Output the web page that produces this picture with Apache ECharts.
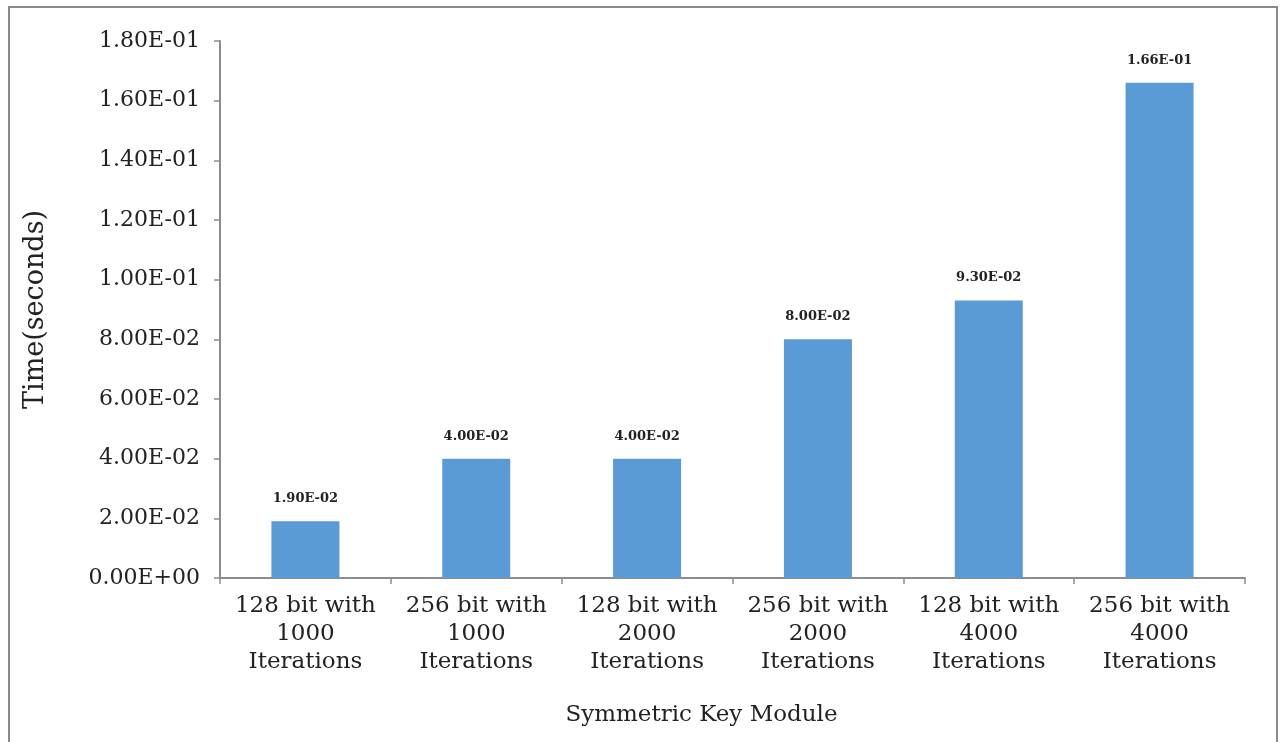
<!DOCTYPE html>
<html>
<head>
<meta charset="utf-8">
<script src="https://cdn.jsdelivr.net/npm/echarts@6/dist/echarts.min.js"></script>
<style>
  html, body { margin: 0; padding: 0; background: #fff; }
  #chart { width: 1280px; height: 742px; }
</style>
</head>
<body>
<div id="chart"></div>
<script>
// Symmetric key timing per configuration
const categories = [
  '128 bit with\n1000\nIterations',
  '256 bit with\n1000\nIterations',
  '128 bit with\n2000\nIterations',
  '256 bit with\n2000\nIterations',
  '128 bit with\n4000\nIterations',
  '256 bit with\n4000\nIterations'
];
const timeSeconds = [0.019, 0.04, 0.04, 0.08, 0.093, 0.166];
const yTicks = [0, 0.02, 0.04, 0.06, 0.08, 0.10, 0.12, 0.14, 0.16, 0.18];

// Scientific notation like 1.80E-01 / 0.00E+00
function sci(v) {
  if (v === 0) return '0.00E+00';
  const parts = v.toExponential(2).split('e');
  const exp = parseInt(parts[1], 10);
  const sign = exp < 0 ? '-' : '+';
  const mag = String(Math.abs(exp)).padStart(2, '0');
  return parts[0] + 'E' + sign + mag;
}

const serif = '"DejaVu Serif", "Liberation Serif", serif';
const chart = echarts.init(document.getElementById('chart'));
chart.setOption({
  backgroundColor: '#fff',
  animation: false,
  graphic: [{
    type: 'rect',
    shape: { x: 9, y: 7, width: 1268, height: 760 },
    style: { fill: 'none', stroke: '#8a8a8a', lineWidth: 2 },
    silent: true
  }],
  grid: { left: 220, right: 35, top: 41, bottom: 164 },
  xAxis: {
    type: 'category',
    data: categories,
    name: 'Symmetric Key Module',
    nameLocation: 'middle',
    nameGap: 126,
    nameTextStyle: { fontFamily: serif, fontSize: 23, color: '#222', padding: [0, 62, 0, 0] },
    axisLine: { lineStyle: { color: '#8c8c8c', width: 2 } },
    axisTick: { show: true, alignWithLabel: false, length: 6, lineStyle: { color: '#8c8c8c', width: 1.5 } },
    axisLabel: {
      interval: 0, margin: 14,
      fontFamily: serif, fontSize: 23, color: '#222', lineHeight: 28
    }
  },
  yAxis: {
    type: 'value',
    min: 0, max: 0.18, interval: 0.02,
    name: 'Time(seconds)',
    nameLocation: 'middle',
    nameRotate: 90,
    nameGap: 171,
    nameTextStyle: { fontFamily: serif, fontSize: 27, color: '#222' },
    axisLine: { show: true, lineStyle: { color: '#8c8c8c', width: 2 } },
    axisTick: { show: true, length: 6, lineStyle: { color: '#8c8c8c', width: 1.5 } },
    splitLine: { show: false },
    axisLabel: {
      margin: 20,
      fontFamily: serif, fontSize: 22, color: '#222',
      formatter: function (v) {
        const t = yTicks.find(function (k) { return Math.abs(k - v) < 1e-9; });
        return sci(t === undefined ? v : t);
      }
    }
  },
  series: [{
    type: 'bar',
    data: timeSeconds,
    barWidth: 68,
    itemStyle: { color: '#5B9BD5' },
    label: {
      show: true, position: 'top', distance: 16,
      fontFamily: serif, fontSize: 13, fontWeight: 'bold', color: '#222',
      formatter: function (p) { return sci(p.value); }
    }
  }]
});
</script>
</body>
</html>
